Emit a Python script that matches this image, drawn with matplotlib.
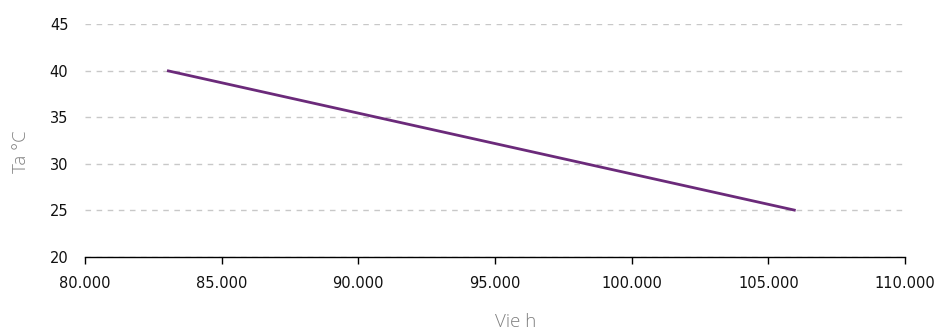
import matplotlib
matplotlib.use("Agg")
import matplotlib.pyplot as plt
from matplotlib.ticker import FuncFormatter

life_hours = [83000, 106000]
temp_c = [40, 25]
x_ticks = [80000, 85000, 90000, 95000, 100000, 105000, 110000]
y_ticks = [20, 25, 30, 35, 40, 45]

fig = plt.figure(figsize=(9.37, 3.34), dpi=100)
ax = fig.add_axes([85/937, 1-257/334, 820/937, 233/334])

ax.plot(life_hours, temp_c, color="#6b2a7a", linewidth=2.0, solid_capstyle="butt")

ax.set_xlim(80000, 110000)
ax.set_ylim(20, 45)
ax.set_xticks(x_ticks)
ax.set_yticks(y_ticks)
ax.xaxis.set_major_formatter(FuncFormatter(lambda v, p: f"{int(v):,}".replace(",", ".")))

for s in ["top", "right", "left"]:
    ax.spines[s].set_visible(False)
ax.spines["bottom"].set_color("black")
ax.spines["bottom"].set_linewidth(1.0)

ax.yaxis.grid(True, linestyle=(0, (4, 4)), color="#c8c8c8", linewidth=1.0)
ax.set_axisbelow(True)
ax.tick_params(axis="y", length=0, pad=12, labelsize=10.5, labelcolor="#111111")
ax.tick_params(axis="x", length=5, width=1, direction="out", pad=9, labelsize=10.5, labelcolor="#111111")

for lab in ax.get_xticklabels() + ax.get_yticklabels():
    lab.set_family("DejaVu Sans")

fig.text(516/937, 1-322/334, "Vie h", color="#808080", fontsize=13.5, family="Open Sans",
         fontweight="light", ha="center", va="center")
fig.text(21/937, 1-152/334, "Ta °C", color="#808080", fontsize=13.5, family="Open Sans",
         fontweight="light", ha="center", va="center", rotation=90)

fig.savefig("out.png", dpi=100)
